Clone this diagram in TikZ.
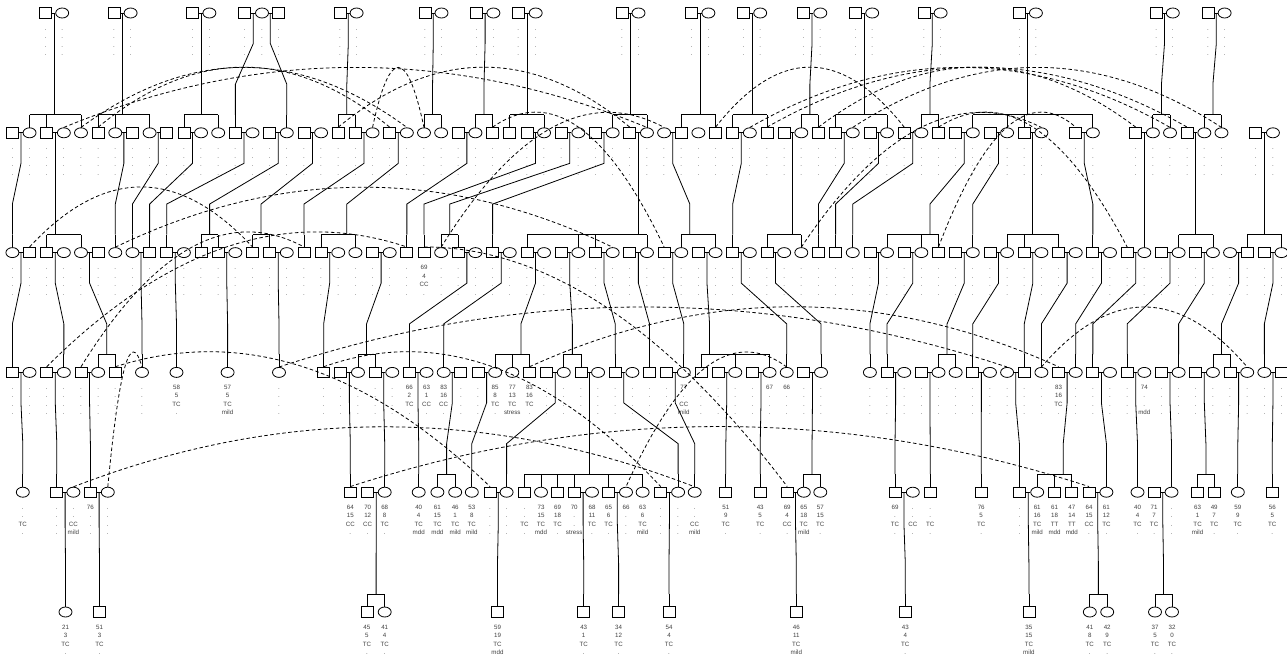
\documentclass[tikz,border=0pt]{standalone}
\usepackage{fontspec}
\setmainfont{Liberation Sans}
\usetikzlibrary{shapes.geometric,calc}
\newdimen\famd
\newcommand\lbf{\fontsize{6.2}{7}\selectfont}
\tikzset{
 ma/.style={draw,rectangle,minimum width=12pt,minimum height=10.5pt,inner sep=0pt,line width=0.8pt},
 fe/.style={draw,ellipse,minimum width=13pt,minimum height=10pt,inner sep=0pt,line width=0.8pt},
 lab/.style={anchor=base,inner sep=0pt,font=\lbf,text=black!75},
 pl/.style={line width=0.8pt},
 dl/.style={line width=0.8pt,dash pattern=on 3.5pt off 2.5pt},
}
\newcommand\pind[8]{%
 \node[#2] (#1) at ({#3},{#4}) {};%
 \node[lab] at ({#3},{#4+17}) {#5};%
 \node[lab] at ({#3},{#4+25.5}) {#6};%
 \node[lab] at ({#3},{#4+34}) {#7};%
 \node[lab] at ({#3},{#4+42.5}) {#8};}
\newcommand\pindd[4]{\pind{#1}{#2}{#3}{#4}{.}{.}{.}{.}}
\newcommand\pkid[4]{%
  \pgfextractx{\famd}{\pgfpointanchor{#1}{center}}\pgfmathsetmacro\fpa{\famd}%
  \pgfextractx{\famd}{\pgfpointanchor{#2}{center}}\pgfmathsetmacro\fpb{\famd}%
  \pgfmathsetmacro\fpx{(\fpa+\fpb)/2}%
  \xdef\fmin{9999}\xdef\fmax{-9999}%
  \foreach \fch in {#3}{%
    \pgfextractx{\famd}{\pgfpointanchor{\fch}{center}}%
    \pgfmathsetmacro\fcx{\famd}%
    \pgfmathsetmacro\fa{min(\fmin,\fcx)}\xdef\fmin{\fa}%
    \pgfmathsetmacro\fb{max(\fmax,\fcx)}\xdef\fmax{\fb}%
    \draw[pl] (\fcx,#4-5.25) -- (\fcx,#4-18);%
  }%
  \pgfmathsetmacro\fxa{(\fmax-\fmin<17.1) ? (\fmin+\fmax)/2 : max(\fmin+8.575,min(\fmax-8.575,\fpx))}%
  \pgfmathsetmacro\fby{#4-18}%
  \pgfmathsetmacro\fpy{#4-119.8}%
  \pgfmathsetmacro\fd{0.3*(\fby-\fpy)}%
  \draw[pl] (\fmin,\fby) -- (\fmax,\fby);%
  \draw[pl] (\fxa,\fby) -- (\fxa,\fby-\fd) -- (\fpx,\fpy+\fd) -- (\fpx,\fpy);%
}
\newcommand\pdup[2]{\draw[dl] (#1.north) .. controls ($(#1.north)!1/3!(#2.north)+(0,-80)$) and ($(#1.north)!2/3!(#2.north)+(0,-80)$) .. (#2.north);}
\begin{document}
\begin{tikzpicture}[x=1pt,y=-1pt]
\useasboundingbox (0,0) rectangle (1287,657);
% ---------- row 1
\foreach \n/\s/\x in {a1/ma/45.6,a2/fe/62.2,a3/ma/114,a4/fe/130.6,a5/ma/192.8,a6/fe/209.4,a7/ma/244.6,a8/fe/262,a9/ma/278.6,a10/ma/340,a11/fe/356.6,a12/ma/425,a13/fe/441.5,a14/ma/476.8,a15/fe/493.4,a16/ma/518.2,a17/fe/535.7,a18/ma/621.9,a19/fe/638.5,a20/ma/691.8,a21/fe/708.4,a22/ma/743.6,a23/fe/760.2,a24/ma/803.8,a25/fe/820.3,a26/ma/855.6,a27/fe/872.2,a28/ma/924,a29/fe/940.6,a30/ma/1019.4,a31/fe/1035.9,a32/ma/1156.2,a33/fe/1172.8,a34/ma/1208,a35/fe/1224.6}{\pindd{\n}{\s}{\x}{13}}
% ---------- row 2
\foreach \i/\s in {0/ma,1/fe,2/ma,3/fe,4/fe,5/ma,6/fe,7/ma,8/fe,9/ma,10/ma,11/fe,12/fe,13/ma,14/fe,15/ma,16/fe,17/ma,18/fe,19/ma,20/ma,21/fe,22/ma,23/fe,24/fe,25/fe,26/ma,27/fe,28/ma,29/ma,30/ma,31/fe,32/ma,33/fe,34/ma,35/fe,36/ma,37/fe,38/fe,39/ma,40/fe,41/ma,42/ma,43/fe,44/ma,45/ma,46/fe,47/ma,48/ma,49/fe,50/ma,51/fe,52/ma,53/fe,54/ma,55/ma,56/fe,57/ma,58/fe,59/ma,60/fe,62/ma,63/fe}{\pindd{b\i}{\s}{12.4+17.15*\i}{132.8}}
\foreach \n/\s/\i in {b655/ma/65.5,b665/fe/66.5,b675/fe/67.5,b685/ma/68.5,b695/fe/69.5,b705/fe/70.5,b725/ma/72.5,b735/fe/73.5}{\pindd{\n}{\s}{12.4+17.15*\i}{132.8}}
% ---------- row 3
\foreach \i/\s in {0/fe,1/ma,2/ma,3/fe,4/fe,5/ma,6/fe,7/fe,8/ma,9/ma,10/fe,11/ma,12/ma,13/fe,14/ma,15/ma,16/fe,17/ma,18/ma,19/fe,20/fe,21/ma,22/fe,23/ma,25/fe,26/ma,27/fe,28/ma,29/fe,30/ma,31/fe,32/ma,33/fe,34/ma,35/fe,36/ma,37/fe,38/ma,39/fe,40/ma,41/fe,42/ma,43/fe,44/ma,45/fe,46/fe,47/ma,48/ma,49/fe,50/ma,51/fe,52/ma,53/fe,54/ma,55/ma,56/fe,57/ma,58/fe,59/ma,60/fe,61/ma,62/fe,63/ma,64/fe,65/ma,66/fe,67/ma,68/fe,69/ma,70/fe,71/fe,72/ma,73/ma,74/fe}{\pindd{c\i}{\s}{12.4+17.15*\i}{252.6}}
\pind{c24}{ma}{12.4+17.15*24}{252.6}{69}{4}{CC}{.}
% ---------- row 4
\foreach \i/\s in {0/ma,1/fe,2/ma,3/fe,4/ma,5/fe,6/ma}{\pindd{d\i}{\s}{12.4+17.15*\i}{372.4}}
\pindd{d7}{fe}{142}{372.4}
\pind{d9}{fe}{176.5}{372.4}{58}{5}{TC}{.}
\pind{d12}{fe}{227.6}{372.4}{57}{5}{TC}{mild}
\pindd{d15}{fe}{279}{372.4}
\foreach \i/\s in {18/ma,19/ma,20/fe,21/ma,22/fe,26/ma,27/ma,31/ma,32/fe,33/ma,34/fe,35/ma,36/fe,37/ma,38/ma,40/ma,41/ma,42/fe,43/ma,46/ma,47/fe}{\pindd{d\i}{\s}{14.97+17.15*\i}{372.4}}
\pind{d23}{ma}{14.97+17.15*23}{372.4}{66}{2}{TC}{.}
\pind{d24}{fe}{14.97+17.15*24}{372.4}{63}{1}{CC}{.}
\pind{d25}{fe}{14.97+17.15*25}{372.4}{83}{16}{CC}{.}
\pind{d28}{fe}{14.97+17.15*28}{372.4}{85}{8}{TC}{.}
\pind{d29}{fe}{14.97+17.15*29}{372.4}{77}{13}{TC}{stress}
\pind{d30}{ma}{14.97+17.15*30}{372.4}{83}{16}{TC}{.}
\pind{d39}{fe}{14.97+17.15*39}{372.4}{77}{.}{CC}{mild}
\pind{d44}{fe}{14.97+17.15*44}{372.4}{67}{.}{.}{.}
\pind{d45}{fe}{14.97+17.15*45}{372.4}{66}{.}{.}{.}
\foreach \i/\s in {50/fe,51/ma,52/fe,53/ma,54/fe,55/fe,56/ma,57/fe,58/fe,59/ma,60/fe,62/fe,63/ma,64/fe,65/ma,67/ma,68/fe,69/ma,70/fe,71/ma,72/fe,73/fe,74/ma}{\pindd{d\i}{\s}{12.4+17.15*\i}{372.4}}
\pind{d61}{ma}{12.4+17.15*61}{372.4}{83}{16}{TC}{.}
\pind{d66}{fe}{12.4+17.15*66}{372.4}{74}{.}{.}{mdd}
% ---------- row 5
\def\rv{492.2}
\pind{e1}{fe}{22.8}{\rv}{.}{.}{TC}{.}
\pindd{e2}{ma}{56.8}{\rv}
\pind{e3}{fe}{73.4}{\rv}{.}{.}{CC}{mild}
\pind{e4}{ma}{90.4}{\rv}{76}{.}{.}{.}
\pindd{e5}{fe}{107.8}{\rv}
\pind{e6}{ma}{350.3}{\rv}{64}{15}{CC}{.}
\pind{e7}{ma}{367.7}{\rv}{70}{12}{CC}{.}
\pind{e8}{fe}{384.7}{\rv}{68}{8}{TC}{.}
\pind{e9}{fe}{418.7}{\rv}{40}{4}{TC}{mdd}
\pind{e10}{fe}{437.4}{\rv}{61}{15}{TC}{mdd}
\pind{e11}{fe}{455.2}{\rv}{46}{1}{TC}{mild}
\pind{e12}{fe}{471.8}{\rv}{53}{8}{TC}{mild}
\pindd{e13}{ma}{490}{\rv}
\pindd{e14}{fe}{506.6}{\rv}
\pind{e15}{ma}{524.5}{\rv}{.}{.}{TC}{.}
\pind{e16}{fe}{541}{\rv}{73}{15}{TC}{mdd}
\pind{e17}{ma}{557.6}{\rv}{69}{18}{TC}{.}
\pind{e18}{ma}{574.2}{\rv}{70}{.}{.}{stress}
\pind{e19}{fe}{592}{\rv}{68}{11}{TC}{.}
\pind{e20}{ma}{608.6}{\rv}{65}{6}{TC}{.}
\pind{e21}{fe}{626}{\rv}{66}{.}{.}{.}
\pind{e22}{fe}{642.6}{\rv}{63}{6}{TC}{mild}
\pindd{e23}{ma}{660.7}{\rv}
\pindd{e24}{fe}{678.1}{\rv}
\pind{e25}{fe}{694.7}{\rv}{.}{.}{CC}{mild}
\pind{e26}{ma}{725.8}{\rv}{51}{9}{TC}{.}
\pind{e27}{ma}{760.2}{\rv}{43}{5}{TC}{.}
\pind{e28}{ma}{787.2}{\rv}{69}{4}{CC}{.}
\pind{e29}{fe}{803.8}{\rv}{65}{18}{TC}{mild}
\pind{e30}{fe}{820.3}{\rv}{57}{15}{TC}{.}
\pind{e31}{ma}{895}{\rv}{69}{.}{TC}{.}
\pind{e32}{fe}{912.8}{\rv}{.}{.}{CC}{.}
\pind{e33}{ma}{930.2}{\rv}{.}{.}{TC}{.}
\pind{e34}{ma}{981.2}{\rv}{76}{5}{TC}{.}
\pindd{e35}{ma}{1019.4}{\rv}
\pind{e36}{fe}{1037.2}{\rv}{61}{16}{TC}{mild}
\pind{e37}{ma}{1054.6}{\rv}{61}{18}{TT}{mdd}
\pind{e38}{ma}{1071.8}{\rv}{47}{14}{TT}{mdd}
\pind{e39}{ma}{1089}{\rv}{64}{15}{CC}{.}
\pind{e40}{fe}{1106.4}{\rv}{61}{12}{TC}{.}
\pind{e41}{fe}{1137.5}{\rv}{40}{4}{TC}{.}
\pind{e42}{ma}{1154.1}{\rv}{71}{7}{TC}{.}
\pindd{e43}{fe}{1171.5}{\rv}
\pind{e44}{ma}{1197.6}{\rv}{63}{1}{TC}{mild}
\pind{e45}{ma}{1214.2}{\rv}{49}{7}{TC}{.}
\pind{e46}{fe}{1237.8}{\rv}{59}{9}{TC}{.}
\pind{e47}{ma}{1272.3}{\rv}{56}{5}{TC}{.}
% ---------- row 6
\def\rw{612}
\pind{g1}{fe}{65.5}{\rw}{21}{3}{TC}{.}
\pind{g2}{ma}{99.5}{\rw}{51}{3}{TC}{.}
\pind{g3}{ma}{366.9}{\rw}{45}{5}{TC}{.}
\pind{g4}{fe}{384.7}{\rw}{41}{4}{TC}{.}
\pind{g5}{ma}{497.5}{\rw}{59}{19}{TC}{mdd}
\pind{g6}{ma}{583.7}{\rw}{43}{1}{TC}{.}
\pind{g7}{ma}{618.6}{\rw}{34}{12}{TC}{.}
\pind{g8}{ma}{669}{\rw}{54}{4}{TC}{.}
\pind{g9}{ma}{796.3}{\rw}{46}{11}{TC}{mild}
\pind{g10}{ma}{905.3}{\rw}{43}{4}{TC}{.}
\pind{g11}{ma}{1028.9}{\rw}{35}{15}{TC}{mild}
\pind{g12}{fe}{1089.8}{\rw}{41}{8}{TC}{.}
\pind{g13}{fe}{1107.2}{\rw}{42}{9}{TC}{.}
\pind{g14}{fe}{1155}{\rw}{37}{5}{TC}{.}
\pind{g15}{fe}{1172}{\rw}{32}{0}{TC}{.}
% ---------- spouse lines
\foreach \p/\q in {a1/a2,a3/a4,a5/a6,a7/a8,a8/a9,a10/a11,a12/a13,a14/a15,a16/a17,a18/a19,a20/a21,a22/a23,a24/a25,a26/a27,a28/a29,a30/a31,a32/a33,a34/a35,
 b0/b1,b2/b3,b6/b7,b8/b9,b10/b11,b13/b14,b15/b16,b17/b18,b20/b21,b22/b23,b26/b27,b30/b31,b32/b33,b34/b35,b36/b37,b38/b39,b42/b43,b45/b46,b48/b49,b50/b51,b52/b53,b55/b56,b57/b58,b59/b60,b62/b63,b655/b665,b685/b695,b725/b735,
 c0/c1,c2/c3,c4/c5,c7/c8,c9/c10,c12/c13,c15/c16,c18/c19,c21/c22,c26/c27,c28/c29,c30/c31,c32/c33,c34/c35,c36/c37,c38/c39,c40/c41,c42/c43,c44/c45,c50/c51,c52/c53,c55/c56,c57/c58,c59/c60,c61/c62,c63/c64,c65/c66,c67/c68,c69/c70,c71/c72,c73/c74,
 d0/d1,d2/d3,d4/d5,d19/d20,d21/d22,d23/d24,d25/d26,d27/d28,d31/d32,d33/d34,d35/d36,d38/d39,d41/d42,d43/d44,d46/d47,d51/d52,d53/d54,d56/d57,d58/d59,d61/d62,d63/d64,d65/d66,d67/d68,d69/d70,d71/d72,d73/d74,
 e2/e3,e4/e5,e7/e8,e13/e14,e18/e19,e20/e21,e23/e24,e28/e29,e31/e32,e35/e36,e39/e40,e42/e43}{\draw[pl] (\p.east) -- (\q.west);}
% ---------- families -> row 2
\pkid{a1}{a2}{b1,b2,b4}{132.8}
\pkid{a3}{a4}{b5,b6,b8}{132.8}
\pkid{a5}{a6}{b10,b12}{132.8}
\pkid{a7}{a8}{b13}{132.8}
\pkid{a8}{a9}{b16}{132.8}
\pkid{a10}{a11}{b19,b20}{132.8}
\pkid{a12}{a13}{b24,b25}{132.8}
\pkid{a14}{a15}{b27,b28}{132.8}
\pkid{a16}{a17}{b29,b31}{132.8}
\pkid{a18}{a19}{b35,b37}{132.8}
\pkid{a20}{a21}{b39,b41}{132.8}
\pkid{a22}{a23}{b42,b44}{132.8}
\pkid{a24}{a25}{b46,b47}{132.8}
\pkid{a26}{a27}{b48,b51}{132.8}
\pkid{a28}{a29}{b53,b54}{132.8}
\pkid{a30}{a31}{b56,b58,b59,b63}{132.8}
\pkid{a32}{a33}{b665,b675}{132.8}
\pkid{a34}{a35}{b695,b705}{132.8}
% ---------- families -> row 3
\pkid{b0}{b1}{c0}{252.6}
\pkid{b2}{b3}{c2,c4}{252.6}
\pkid{b6}{b7}{c6}{252.6}
\pkid{b8}{b9}{c7}{252.6}
\pkid{b10}{b11}{c8}{252.6}
\pkid{b13}{b14}{c9}{252.6}
\pkid{b15}{b16}{c11,c12}{252.6}
\pkid{b17}{b18}{c14,c15}{252.6}
\pkid{b20}{b21}{c17}{252.6}
\pkid{b22}{b23}{c18,c20}{252.6}
\pkid{b26}{b27}{c23}{252.6}
\pkid{b30}{b31}{c24}{252.6}
\pkid{b32}{b33}{c25,c26}{252.6}
\pkid{b34}{b35}{c28}{252.6}
\pkid{b36}{b37}{c30,c33,c34,c37}{252.6}
\pkid{b38}{b39}{c39,c41}{252.6}
\pkid{b42}{b43}{c42}{252.6}
\pkid{b45}{b46}{c44,c46}{252.6}
\pkid{b48}{b49}{c47}{252.6}
\pkid{b50}{b51}{c48}{252.6}
\pkid{b52}{b53}{c49}{252.6}
\pkid{b55}{b56}{c51,c53,c54}{252.6}
\pkid{b57}{b58}{c56}{252.6}
\pkid{b59}{b60}{c58,c59,c61}{252.6}
\pkid{b62}{b63}{c63}{252.6}
\pkid{b655}{b665}{c66}{252.6}
\pkid{b685}{b695}{c68,c70}{252.6}
\pkid{b725}{b735}{c72,c74}{252.6}
% ---------- families -> row 4
\pkid{c0}{c1}{d0}{372.4}
\pkid{c2}{c3}{d3}{372.4}
\pkid{c4}{c5}{d5,d6}{372.4}
\pkid{c7}{c8}{d7}{372.4}
\pkid{c9}{c10}{d9}{372.4}
\pkid{c12}{c13}{d12}{372.4}
\pkid{c15}{c16}{d15}{372.4}
\pkid{c18}{c19}{d18}{372.4}
\pkid{c21}{c22}{d20,d21}{372.4}
\pkid{c26}{c27}{d23}{372.4}
\pkid{c28}{c29}{d25}{372.4}
\pkid{c30}{c31}{d28,d29,d30}{372.4}
\pkid{c32}{c33}{d32,d33}{372.4}
\pkid{c34}{c35}{d35}{372.4}
\pkid{c36}{c37}{d37}{372.4}
\pkid{c38}{c39}{d39}{372.4}
\pkid{c40}{c41}{d40,d42,d44}{372.4}
\pkid{c42}{c43}{d45}{372.4}
\pkid{c44}{c45}{d47}{372.4}
\pkid{c50}{c51}{d50}{372.4}
\pkid{c52}{c53}{d51}{372.4}
\pkid{c55}{c56}{d54,d55}{372.4}
\pkid{c57}{c58}{d56}{372.4}
\pkid{c59}{c60}{d59}{372.4}
\pkid{c61}{c62}{d60}{372.4}
\pkid{c63}{c64}{d62}{372.4}
\pkid{c65}{c66}{d63}{372.4}
\pkid{c67}{c68}{d65}{372.4}
\pkid{c69}{c70}{d68}{372.4}
\pkid{c71}{c72}{d70,d71}{372.4}
\pkid{c73}{c74}{d73}{372.4}
% ---------- families -> row 5
\pkid{d0}{d1}{e1}{492.2}
\pkid{d2}{d3}{e2}{492.2}
\pkid{d4}{d5}{e4}{492.2}
\pkid{d19}{d20}{e6}{492.2}
\pkid{d21}{d22}{e8}{492.2}
\pkid{d23}{d24}{e9}{492.2}
\pkid{d25}{d26}{e10,e11}{492.2}
\pkid{d27}{d28}{e12}{492.2}
\pkid{d31}{d32}{e14}{492.2}
\pkid{d33}{d34}{e15,e16,e17,e18,e20,e22}{492.2}
\pkid{d35}{d36}{e24}{492.2}
\pkid{d38}{d39}{e25}{492.2}
\pkid{d41}{d42}{e26}{492.2}
\pkid{d43}{d44}{e27}{492.2}
\pkid{d46}{d47}{e29,e30}{492.2}
\pkid{d51}{d52}{e31}{492.2}
\pkid{d53}{d54}{e33}{492.2}
\pkid{d56}{d57}{e34}{492.2}
\pkid{d58}{d59}{e35}{492.2}
\pkid{d61}{d62}{e36,e37,e38}{492.2}
\pkid{d63}{d64}{e40}{492.2}
\pkid{d65}{d66}{e41}{492.2}
\pkid{d67}{d68}{e43}{492.2}
\pkid{d69}{d70}{e44,e45}{492.2}
\pkid{d71}{d72}{e46}{492.2}
\pkid{d73}{d74}{e47}{492.2}
% ---------- families -> row 6
\pkid{e2}{e3}{g1}{612}
\pkid{e4}{e5}{g2}{612}
\pkid{e7}{e8}{g3,g4}{612}
\pkid{e13}{e14}{g5}{612}
\pkid{e18}{e19}{g6}{612}
\pkid{e20}{e21}{g7}{612}
\pkid{e23}{e24}{g8}{612}
\pkid{e28}{e29}{g9}{612}
\pkid{e31}{e32}{g10}{612}
\pkid{e35}{e36}{g11}{612}
\pkid{e39}{e40}{g12,g13}{612}
\pkid{e42}{e43}{g14,g15}{612}
% ---------- duplicates (dashed arcs)
\pdup{b21}{b24}
\pdup{b41}{b52}
\pdup{b47}{b655}
\pdup{b4}{b23}
\pdup{b5}{b22}
\pdup{b3}{b37}
\pdup{b19}{b36}
\pdup{b44}{b685}
\pdup{b43}{b675}
\pdup{b49}{b705}
\pdup{c1}{c14}
\pdup{c6}{c35}
\pdup{c25}{b38}
\pdup{c46}{b60}
\pdup{c54}{b62}
\pdup{b28}{c38}
\pdup{b54}{c65}
\pdup{d30}{d61}
\pdup{d60}{d72}
\pdup{d15}{d58}
\pdup{d2}{c23}
\pdup{d4}{c17}
\pdup{e6}{e39}
\pdup{c24}{e28}
\pdup{e3}{e25}
\pdup{d45}{e21}
\pdup{e5}{d7}
\pdup{d6}{e13}
\pdup{d18}{e23}
\end{tikzpicture}
\end{document}
